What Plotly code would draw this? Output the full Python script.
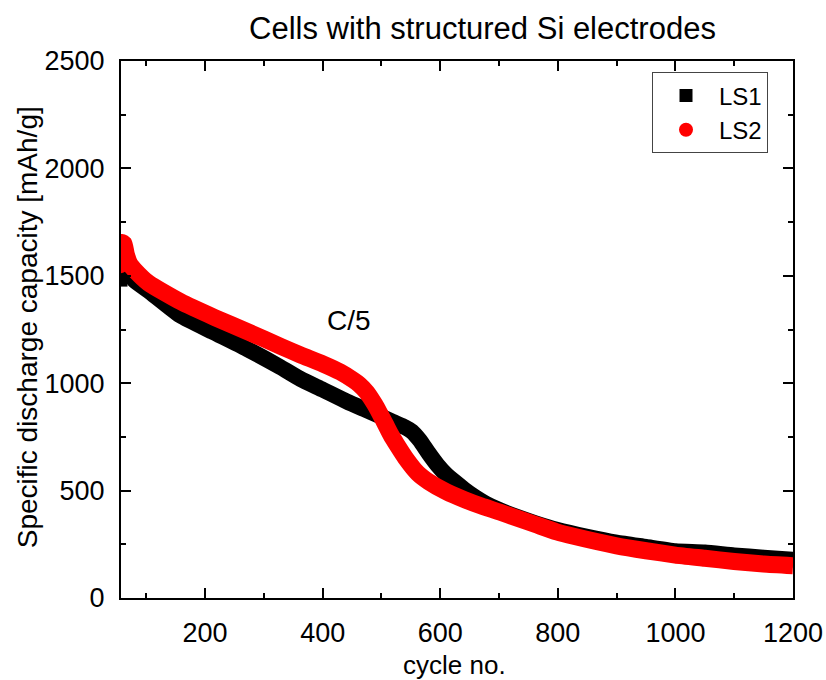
import plotly.graph_objects as go

# ---- data ----
ls1_cycle = [57, 62, 68, 80, 104, 158, 214, 271, 328, 362, 400, 441, 470, 495, 519, 540, 552, 565,
             580, 595, 610, 625, 641, 660, 677, 700, 730, 762, 798, 850, 900, 950, 1000, 1050,
             1100, 1150, 1200]
ls1_capacity = [1480, 1515, 1528, 1478, 1430, 1315, 1238, 1160, 1075, 1020, 970, 915, 880, 850, 820,
                795, 775, 735, 675, 620, 575, 540, 505, 468, 440, 410, 378, 348, 318, 285, 258,
                238, 218, 212, 198, 188, 178]

ls2_cycle = [57, 59, 62, 66, 72, 81, 104, 158, 217, 274, 330, 362, 400, 430, 452, 462, 475, 489,
             498, 507, 516, 526, 544, 562, 580, 610, 641, 670, 701, 730, 762, 798, 827, 900, 950,
             1000, 1050, 1100, 1150, 1200]
ls2_capacity = [1545, 1655, 1650, 1600, 1555, 1525, 1466, 1380, 1305, 1238, 1170, 1132, 1090, 1052,
                1015, 995, 958, 900, 855, 808, 760, 715, 640, 580, 542, 495, 458, 428, 400, 372,
                342, 308, 287, 243, 220, 200, 185, 170, 158, 150]

series_names = ["LS1", "LS2"]
x_ticks = [200, 400, 600, 800, 1000, 1200]
y_ticks = [0, 500, 1000, 1500, 2000, 2500]
title_text = "Cells with structured Si electrodes"
x_title = "cycle no."
y_title = "Specific discharge capacity [mAh/g]"
note_text = "C/5"
note_pos = (444, 1294)

FONT = "Liberation Sans, Arial, sans-serif"

fig = go.Figure()

# LS1 band
fig.add_trace(go.Scatter(x=ls1_cycle, y=ls1_capacity, mode="lines",
                         line=dict(color="black", width=16, shape="spline", smoothing=0.5),
                         showlegend=False, hoverinfo="skip"))
fig.add_trace(go.Scatter(x=ls1_cycle[:1], y=ls1_capacity[:1], mode="markers", name=series_names[0],
                         marker=dict(symbol="square", size=13, color="black")))
# LS2 band
fig.add_trace(go.Scatter(x=ls2_cycle, y=ls2_capacity, mode="lines",
                         line=dict(color="#ff0000", width=17, shape="spline", smoothing=0.5),
                         showlegend=False, hoverinfo="skip"))
fig.add_trace(go.Scatter(x=ls2_cycle[:1], y=ls2_capacity[:1], mode="markers", name=series_names[1],
                         marker=dict(symbol="circle", size=14, color="#ff0000")))

axis_common = dict(
    showgrid=False, zeroline=False,
    showline=True, linecolor="black", linewidth=2,
    mirror="ticks",
    ticks="inside", ticklen=10, tickwidth=2, tickcolor="black",
    tickfont=dict(family=FONT, size=27, color="black"),
)

fig.update_xaxes(range=[57, 1200], tickvals=x_ticks, ticklabelstandoff=10,
                 minor=dict(ticks="inside", ticklen=5, tickwidth=2, dtick=100, tick0=0,
                            tickcolor="black", showgrid=False),
                 **axis_common)
fig.update_yaxes(range=[0, 2500], tickvals=y_ticks, ticklabelstandoff=9,
                 minor=dict(ticks="inside", ticklen=5, tickwidth=2, dtick=250, tick0=0,
                            tickcolor="black", showgrid=False),
                 **axis_common)

fig.update_layout(
    width=826, height=680,
    margin=dict(l=121, r=33, t=61, b=82, autoexpand=False),
    paper_bgcolor="white", plot_bgcolor="white",
    font=dict(family=FONT, color="black"),
    showlegend=True,
    legend=dict(x=(652 - 121) / 672, y=(598 - 72) / 537.5, xanchor="left", yanchor="top",
                bgcolor="white", bordercolor="#444", borderwidth=1,
                font=dict(family=FONT, size=24, color="black"),
                itemwidth=56, tracegroupgap=0),
    annotations=[
        dict(text=title_text, xref="paper", yref="paper", x=(482 - 121) / 672, y=1 + (61 - 28) / 537.5,
             xanchor="center", yanchor="middle", showarrow=False,
             font=dict(family=FONT, size=31, color="black")),
        dict(text=x_title, xref="paper", yref="paper", x=(454 - 121) / 672, y=-(665 - 598) / 537.5,
             xanchor="center", yanchor="middle", showarrow=False,
             font=dict(family=FONT, size=26, color="black")),
        dict(text=y_title, xref="paper", yref="paper", x=-(121 - 27) / 672, y=(598 - 327) / 537.5,
             xanchor="center", yanchor="middle", showarrow=False, textangle=-90,
             font=dict(family=FONT, size=28, color="black")),
        dict(text=note_text, x=note_pos[0], y=note_pos[1], xref="x", yref="y",
             showarrow=False, xanchor="center", yanchor="middle",
             font=dict(family=FONT, size=28, color="black")),
    ],
)

fig.write_html("out.html")
